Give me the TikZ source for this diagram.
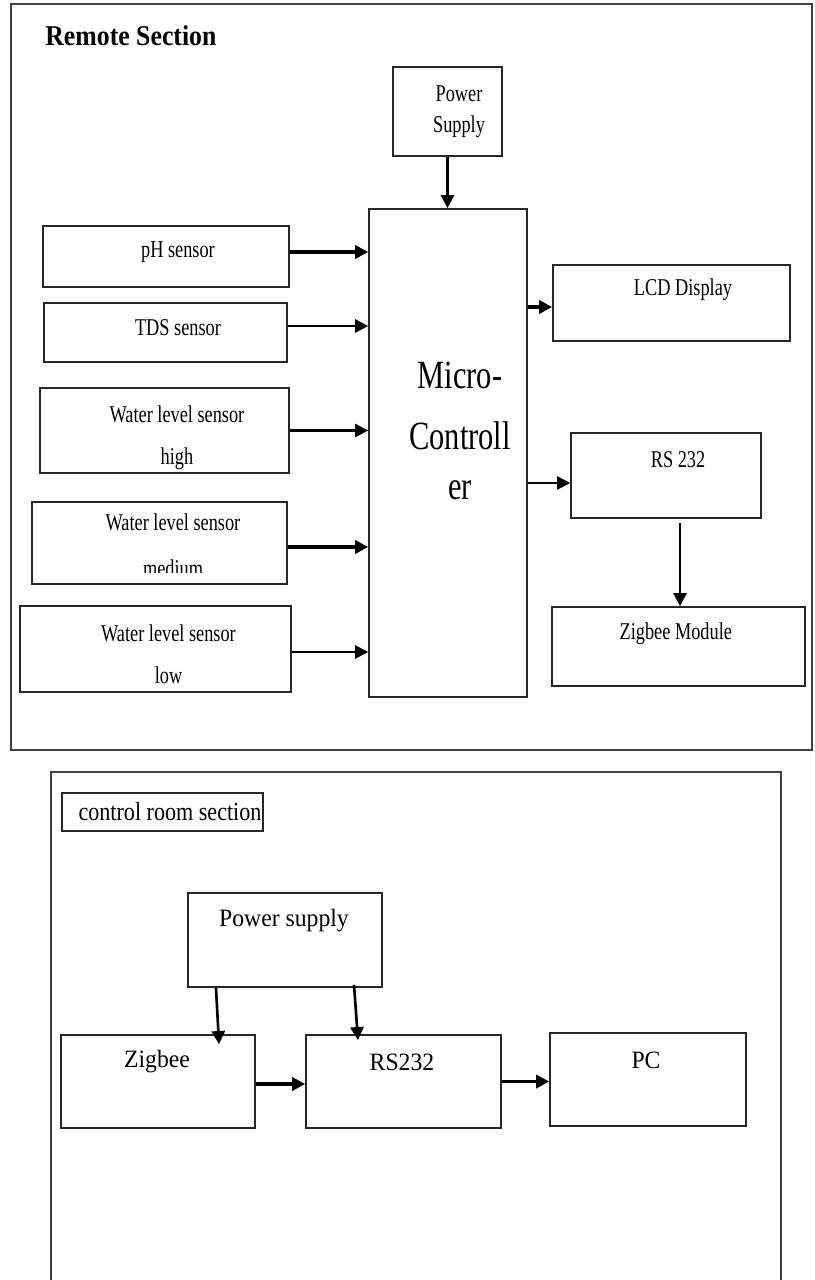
\documentclass[tikz,border=0pt]{standalone}
\usepackage{fontspec}
\setmainfont{Liberation Serif}
\newfontfamily\boxfont[FakeStretch=0.76]{Liberation Serif}
\newfontfamily\ctrlfont[FakeStretch=0.95]{Liberation Serif}
\newfontfamily\tagfont[FakeStretch=0.85]{Liberation Serif}
\newfontfamily\headfont[FakeStretch=0.9]{Liberation Serif}
\usetikzlibrary{arrows.meta,fit,calc}
\newcommand{\pw}{0.02cm}
\tikzset{
  blk/.style={draw=black!85, line width=0.9pt, inner sep=0pt},
  frame/.style={draw=black!75, line width=1.1pt, inner sep=0pt},
  txt/.style={font=\boxfont\fontsize{13.7}{17.6}\selectfont, align=center, inner sep=0pt, anchor=center},
  sens/.style={txt, font=\boxfont\fontsize{13.7}{24}\selectfont},
  ctxt/.style={font=\ctrlfont\fontsize{14.2}{17}\selectfont, inner sep=0pt, anchor=center},
  head/.style={font=\headfont\bfseries\fontsize{16.3}{19}\selectfont, inner sep=0pt},
  arr/.style={-{Triangle[length=7.5pt,width=7.5pt]}, line width=2.2pt},
  arrthin/.style={-{Triangle[length=7.5pt,width=7.5pt]}, line width=1.3pt}
}
\begin{document}
\begin{tikzpicture}[x=\pw, y=-\pw]
\useasboundingbox (0,0) rectangle (814,1280);

% remote section
\node[frame, fit={(11,4) (812,750)}] (remote) {};
\node[head, anchor=west] (rtitle) at (45,35.5) {Remote Section};

\node[blk, fit={(393,67) (502,156)}, label={[txt, xshift=11.5*\pw]center:Power\\Supply}] (psu) {};
\node[blk, fit={(369,209) (527,697)}, label={[txt, font=\boxfont\fontsize{22.8}{34.7}\selectfont, xshift=12*\pw, yshift=22*\pw]center:Micro-\\Controll\\[-6pt]er}] (mcu) {};

\node[blk, fit={(43,226) (289,287)}, label={[txt, xshift=12*\pw, yshift=4.5*\pw]center:pH sensor}] (ph) {};
\node[blk, fit={(44,303) (287,362)}, label={[txt, xshift=12.5*\pw, yshift=4.5*\pw]center:TDS sensor}] (tds) {};
\node[blk, fit={(40,388) (289,473)}, label={[sens, xshift=12.5*\pw, yshift=-7*\pw]center:Water level sensor\\high}] (wlh) {};
\node[blk, fit={(32,502) (287,584)}] (wlm) {};
\begin{scope}
\clip (wlm.north west) rectangle (287,572);
\node[sens, font=\boxfont\fontsize{13.7}{26}\selectfont] (wlmtxt) at (173,545) {Water level sensor\\medium};
\end{scope}
\node[blk, fit={(20,606) (291,692)}, label={[sens, xshift=13*\pw, yshift=-5*\pw]center:Water level sensor\\low}] (wll) {};

\node[blk, fit={(553,265) (790,341)}, label={[txt, xshift=11.5*\pw, yshift=13*\pw]center:LCD Display}] (lcd) {};
\node[blk, fit={(571,433) (761,518)}, label={[txt, xshift=12*\pw, yshift=15.5*\pw]center:RS 232}] (rs) {};
\node[blk, fit={(552,607) (805,686)}, label={[txt, xshift=-2.7*\pw, yshift=13*\pw]center:Zigbee Module}] (zbm) {};

\draw[arrthin] (psu.south) -- (psu.south |- mcu.north);
\draw[arr] ($(ph.east)+(0,-4.5)$) -- ($(ph.east -| mcu.west)+(0,-4.5)$);
\draw[arrthin] ($(tds.east)+(0,-6.5)$) -- ($(tds.east -| mcu.west)+(0,-6.5)$);
\draw[arrthin] (wlh.east) -- (wlh.east -| mcu.west);
\draw[arr] ($(wlm.east)+(0,4)$) -- ($(wlm.east -| mcu.west)+(0,4)$);
\draw[arrthin] ($(wll.east)+(0,3)$) -- ($(wll.east -| mcu.west)+(0,3)$);
\draw[arr] ($(lcd.west -| mcu.east)+(0,4)$) -- ($(lcd.west)+(0,4)$);
\draw[arrthin] ($(rs.west -| mcu.east)+(0,7.5)$) -- ($(rs.west)+(0,7.5)$);
\draw[arrthin] ($(rs.south)+(14,4)$) -- ($(rs.south |- zbm.north)+(14,0)$);

% control room section
\node[frame, line width=0.9pt, fit={(51,772) (781,1300)}] (ctrl) {};
\node[blk, fit={(62,793) (263,831)}, label={[ctxt, font=\tagfont\fontsize{14.8}{17}\selectfont, xshift=7.5*\pw]center:control room section}] (tag) {};

\node[blk, fit={(188,893) (382,987)}, label={[ctxt, xshift=-1*\pw, yshift=19*\pw]center:Power supply}] (ps2) {};
\node[blk, fit={(61,1035) (255,1128)}, label={[ctxt, xshift=-1*\pw, yshift=19.5*\pw]center:Zigbee}] (zb) {};
\node[blk, fit={(306,1035) (501,1128)}, label={[ctxt, xshift=-1.5*\pw, yshift=19.5*\pw]center:RS232}] (rs2) {};
\node[blk, fit={(550,1033) (746,1126)}, label={[ctxt, xshift=-2*\pw, yshift=19.5*\pw]center:PC}] (pc) {};

\draw[arrthin, line width=1.5pt] ($(ps2.south)+(-69,0)$) -- ($(zb.north)+(61,10)$);
\draw[arrthin, line width=1.5pt] ($(ps2.south)+(69,-3)$) -- ($(rs2.north)+(-45.5,6)$);
\draw[arr] ($(zb.east)+(0,2.5)$) -- ($(zb.east -| rs2.west)+(0,2.5)$);
\draw[arr] (rs2.east) -- (rs2.east -| pc.west);
\end{tikzpicture}
\end{document}
